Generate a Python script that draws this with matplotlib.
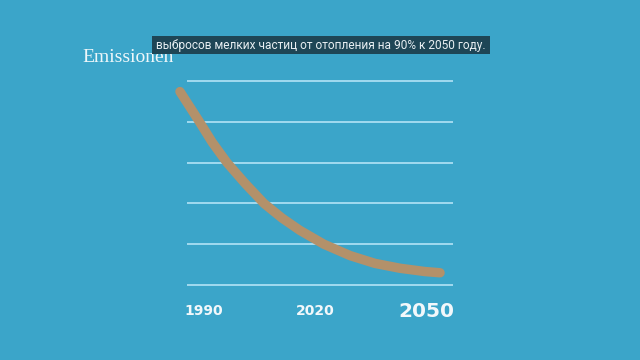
import matplotlib
matplotlib.use('Agg')
import matplotlib.pyplot as plt
from matplotlib.patches import Rectangle

# curve (years, relative emissions on a 0..5 grid)
years = [1983.5, 1986.2, 1988.9, 1992.2, 1996.2, 2001.1, 2006.2, 2011.1,
         2015.9, 2022.4, 2029.5, 2036.2, 2043.0, 2049.7, 2053.8]
emissions = [4.74, 4.36, 3.98, 3.50, 3.00, 2.49, 2.00, 1.64,
             1.34, 1.00, 0.72, 0.53, 0.41, 0.33, 0.30]
grid_levels = [0, 1, 2, 3, 4, 5]
tick_years = [1990, 2020, 2050]
tick_labels = ['1990', '2020', '2050']
ylabel = 'Emissionen'
subtitle = 'выбросов мелких частиц от отопления на 90% к 2050 году.'

bg = '#3ba5c9'
fig = plt.figure(figsize=(6.4, 3.6), dpi=100, facecolor=bg)
ax = fig.add_axes([0, 0, 1, 1], facecolor=bg)
ax.set_xlim(1934.86, 2107.84)
ax.set_ylim(-1.838, 6.985)
ax.axis('off')

ax.hlines(grid_levels, 1985.4, 2057.3, color='#a9def2', lw=1.3, zorder=1)
ax.plot(years, emissions, color='#b3916a', lw=6.8, solid_capstyle='round',
        solid_joinstyle='round', zorder=2)

for yr, lab in zip(tick_years, tick_labels):
    big = lab == '2050'
    ax.text(yr, -0.64, lab, ha='center', va='center', color='#f2f8fb',
            fontweight='bold', fontsize=14.5 if big else 10,
            family='DejaVu Sans')

ax.text(1957.0, 5.466, ylabel, ha='left', va='baseline', color='#eef7fa',
        fontsize=14, family='Liberation Serif')

fig.patches.append(Rectangle((0.2375, 0.85), 0.528, 0.05, transform=fig.transFigure,
                             facecolor='#1e4656', edgecolor='none', zorder=5))
fig.text(0.5016, 0.875, subtitle, ha='center', va='center', color='#e8eff2',
         fontsize=8.6, family='Roboto', zorder=6)

fig.savefig('out.png', dpi=100, facecolor=bg)
